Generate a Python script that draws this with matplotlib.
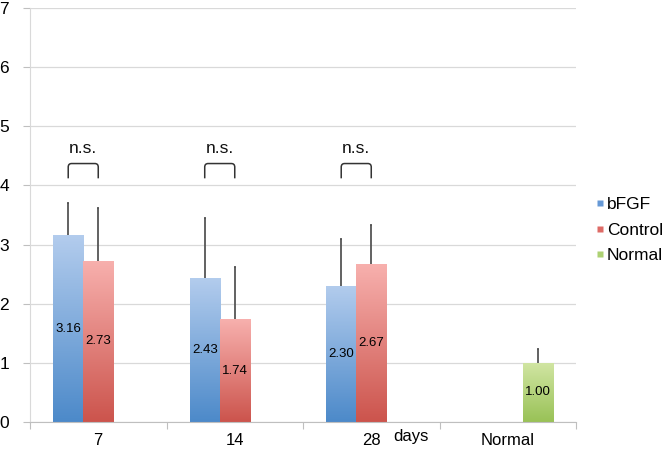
import numpy as np
import matplotlib
matplotlib.use("Agg")
import matplotlib.pyplot as plt
from matplotlib.path import Path
from matplotlib.patches import PathPatch
from matplotlib.lines import Line2D
import matplotlib.transforms as mtransforms

plt.rcParams['font.family'] = ['Liberation Sans', 'DejaVu Sans']

categories = ["7", "14", "28", "Normal"]
series_names = ["bFGF", "Control", "Normal"]
bfgf = [3.16, 2.43, 2.30, np.nan]
bfgf_err = [0.55, 1.02, 0.80, np.nan]
control = [2.73, 1.74, 2.67, np.nan]
control_err = [0.89, 0.88, 0.66, np.nan]
normal = [np.nan, np.nan, np.nan, 1.00]
normal_err = [np.nan, np.nan, np.nan, 0.24]
bar_labels = [["3.16", "2.43", "2.30", ""], ["2.73", "1.74", "2.67", ""], ["", "", "", "1.00"]]
ns_groups = [0, 1, 2]

grad = {
    "bFGF": ((0.70, 0.80, 0.93), (0.30, 0.54, 0.79)),
    "Control": ((0.97, 0.69, 0.68), (0.80, 0.33, 0.30)),
    "Normal": ((0.82, 0.90, 0.64), (0.60, 0.76, 0.34)),
}
legend_col = {"bFGF": (0.40, 0.60, 0.84), "Control": (0.87, 0.42, 0.40), "Normal": (0.68, 0.82, 0.45)}

fig = plt.figure(figsize=(6.66, 4.54), dpi=100)
ax = fig.add_axes([30/666, 32/454, 546/666, 414/454])

w = 0.22
x = np.arange(len(categories))
offsets = [-w, 0, w]
data = [(bfgf, bfgf_err), (control, control_err), (normal, normal_err)]

ax.set_xlim(-0.5, 3.5)
ax.set_ylim(0, 7)

for si, (name, (vals, errs)) in enumerate(zip(series_names, data)):
    top, bot = grad[name]
    for i, (v, e) in enumerate(zip(vals, errs)):
        if np.isnan(v):
            continue
        xc = x[i] + offsets[si]
        bars = ax.bar(xc, v, width=w, color='none', edgecolor='none', zorder=2)
        p = bars[0]
        g = np.linspace(0, 1, 100)
        img = np.zeros((100, 1, 3))
        for c in range(3):
            img[:, 0, c] = top[c] * (1 - g) + bot[c] * g
        im = ax.imshow(img, extent=[xc - w/2, xc + w/2, 0, v], aspect='auto', origin='upper', zorder=2)
        im.set_clip_path(p)
        ax.vlines(xc, v, v + e, color='#555555', lw=1.3, zorder=3)
        ax.hlines(v + e, xc - 0.008, xc + 0.008, color='#555555', lw=1.3, zorder=3)
        lab = bar_labels[si][i]
        if lab:
            ax.text(xc, v/2, lab, ha='center', va='center', fontsize=9.5, color='black', zorder=4)

# n.s. brackets
for i in ns_groups:
    x1 = x[i] + offsets[0]
    x2 = x[i] + offsets[1]
    yb, yt, r = 4.12, 4.37, 0.06
    rx = 0.025
    verts = [(x1, yb), (x1, yt - r), (x1, yt), (x1 + rx, yt), (x2 - rx, yt), (x2, yt), (x2, yt - r), (x2, yb)]
    codes = [Path.MOVETO, Path.LINETO, Path.CURVE3, Path.CURVE3, Path.LINETO, Path.CURVE3, Path.CURVE3, Path.LINETO]
    ax.add_patch(PathPatch(Path(verts, codes), fill=False, edgecolor='#333333', lw=1.1, zorder=3))
    ax.text((x1 + x2)/2, 4.62, "n.s.", ha='center', va='center', fontsize=12.5, color='#111111')

ax.yaxis.grid(True, color='#d9d9d9', lw=0.9)
ax.set_axisbelow(True)
ax.set_yticks(range(0, 8))
ax.set_yticklabels([str(v) for v in range(0, 8)], fontsize=12.5)
ax.tick_params(axis='y', length=5, color='#bfbfbf', pad=10)

ax.set_xticks(np.arange(-0.5, 4.0, 1.0), minor=False)
ax.set_xticklabels([])
ax.tick_params(axis='x', length=5, color='#bfbfbf')
ax.set_xticks(x, minor=True)
ax.set_xticklabels(categories, minor=True, fontsize=12)
ax.tick_params(axis='x', which='minor', length=0, pad=8)

trans = mtransforms.blended_transform_factory(ax.transData, ax.transAxes)
ax.text(2 + 22/136.5, -0.036, "days", transform=trans, ha='left', va='center', fontsize=12)

for s in ['top', 'right']:
    ax.spines[s].set_visible(False)
ax.spines['left'].set_color('#d9d9d9')
ax.spines['bottom'].set_color('#bfbfbf')

handles = [Line2D([], [], marker='s', ls='none', markersize=5, markerfacecolor=legend_col[n], markeredgecolor='none') for n in series_names]
fig.legend(handles, series_names, loc='upper left', bbox_to_anchor=(588/666, 1 - 190/454), frameon=False,
           fontsize=12.5, handlelength=0.6, handletextpad=0.1, labelspacing=0.6, borderaxespad=0)

fig.savefig("out.png", dpi=100)
